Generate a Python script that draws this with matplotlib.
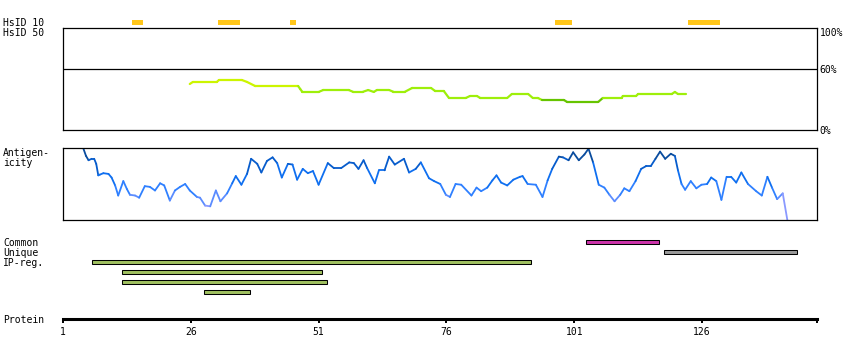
import numpy as np
import matplotlib
matplotlib.use("Agg")
import matplotlib.pyplot as plt
from matplotlib.collections import LineCollection

# HsID 10 hits (start, end residue)
hsid10_start = [14.5, 31.3, 45.4, 97.2, 123.3]
hsid10_end = [16.7, 35.6, 46.6, 100.6, 129.5]

# HsID 50 identity (%) along the protein
hsid_pos = [25.8, 26.4, 31.1, 31.5, 36.0, 37.0, 38.6, 47.0, 47.4, 47.8,
            51.1, 51.9, 56.9, 57.7, 59.7, 60.7, 61.8, 62.4, 64.8, 65.6,
            67.9, 69.3, 73.0, 73.8, 75.5, 76.5, 79.8, 80.6, 82.0, 82.6,
            87.9, 88.8, 92.0, 92.9, 93.9, 94.7, 99.0, 99.6, 105.7, 106.6,
            110.3, 110.5, 113.1, 113.5, 120.1, 120.7, 121.3, 122.9]
hsid_val = [45.1, 47.1, 47.1, 49.0, 49.0, 47.1, 43.1, 43.1, 40.2, 37.5,
            37.5, 39.2, 39.2, 37.5, 37.5, 39.2, 37.3, 39.2, 39.2, 37.5,
            37.5, 41.2, 41.2, 38.2, 38.2, 31.4, 31.4, 33.3, 33.3, 31.4,
            31.4, 35.3, 35.3, 31.4, 31.4, 29.4, 29.4, 27.5, 27.5, 31.4,
            31.4, 33.3, 33.3, 35.3, 35.3, 37.3, 35.3, 35.3]

# antigenicity score (0-100 of panel height)
ag_pos = [5.0, 5.5, 6.0, 6.6, 7.1, 7.5, 7.9, 8.2, 8.9, 9.9,
          10.5, 11.2, 11.8, 12.8, 13.5, 14.1, 15.1, 15.9, 17.0, 18.0,
          19.0, 20.0, 20.8, 21.9, 22.9, 23.9, 24.9, 25.8, 27.2, 27.8,
          28.8, 29.8, 30.9, 31.8, 33.1, 34.1, 34.8, 35.9, 37.0, 37.8,
          39.0, 39.8, 40.9, 42.0, 42.9, 43.8, 45.0, 45.9, 46.8, 47.9,
          48.9, 49.9, 51.0, 52.8, 54.0, 55.4, 57.0, 57.9, 58.8, 59.8,
          60.5, 62.0, 62.8, 63.9, 64.8, 65.9, 67.7, 68.7, 70.0, 71.0,
          72.6, 73.6, 74.8, 75.9, 76.7, 77.8, 78.9, 80.9, 81.9, 82.8,
          84.0, 85.0, 85.8, 86.7, 87.9, 89.1, 90.4, 90.9, 91.9, 93.5,
          94.8, 95.8, 96.7, 98.0, 98.8, 99.9, 100.8, 101.9, 103.0, 103.8,
          104.7, 105.8, 106.9, 107.9, 108.9, 110.0, 110.8, 111.8, 113.0, 114.1,
          115.1, 116.0, 116.9, 117.8, 118.8, 119.9, 120.7, 121.3, 122.0, 122.7,
          123.8, 124.9, 125.9, 127.0, 127.8, 128.8, 129.8, 130.8, 131.7, 132.7,
          133.7, 135.0, 136.6, 137.7, 138.8, 139.7, 140.7, 141.8, 142.7]
ag_val = [99, 89, 83, 85, 85, 78, 62, 63, 65, 64,
          59, 48, 34, 54, 43, 35, 34, 31, 47, 46,
          41, 51, 48, 27, 41, 46, 50, 41, 32, 31,
          20, 19, 41, 26, 37, 51, 61, 49, 64, 85,
          78, 66, 82, 87, 79, 59, 78, 77, 56, 71,
          65, 68, 49, 79, 72, 72, 80, 79, 71, 83,
          72, 51, 69, 69, 88, 77, 85, 66, 71, 80,
          58, 54, 50, 35, 32, 50, 49, 34, 45, 40,
          45, 55, 62, 52, 48, 56, 60, 61, 50, 49,
          32, 55, 71, 88, 87, 83, 94, 83, 91, 99,
          80, 49, 45, 35, 26, 35, 44, 40, 54, 71,
          75, 75, 85, 95, 85, 92, 89, 69, 50, 42,
          54, 44, 49, 50, 59, 54, 28, 60, 60, 52,
          66, 50, 40, 34, 60, 45, 29, 37, 0]

# feature regions
common_start, common_end = [103.4], [117.6]
unique_start, unique_end = [118.5], [144.5]
ipreg_start = [6.6, 12.5, 12.5, 28.5]
ipreg_end = [92.5, 51.6, 52.6, 37.5]

protein_ticks = [1, 26, 51, 76, 101, 126]
protein_len = 148.5

W, H = 850, 360
X0, X1 = 63, 817
MONO = "DejaVu Sans Mono"
FS = 7


def px_axes(fig, x0, y0, x1, y1):
    return fig.add_axes([x0 / W, 1 - y1 / H, (x1 - x0) / W, (y1 - y0) / H])


def hsid_color(v):
    if v >= 42:
        return "#ccf500"
    if v >= 30:
        return "#9eef0a"
    return "#66c400"


def ag_color(v):
    if v >= 86:
        return "#0a4c9e"
    if v >= 70:
        return "#075ccc"
    if v >= 50:
        return "#0f6ff0"
    if v >= 35:
        return "#2f80ff"
    if v >= 20:
        return "#5b8cff"
    return "#8a99ff"


def colored_line(ax, xs, ys, color_for, lw):
    pts = np.column_stack([xs, ys])
    segs = np.stack([pts[:-1], pts[1:]], axis=1)
    ys = np.asarray(ys, dtype=float)
    mids = (ys[:-1] + ys[1:]) / 2
    lc = LineCollection(segs, colors=[color_for(m) for m in mids],
                        linewidths=lw, capstyle="round")
    ax.add_collection(lc)


def frame(ax, lw=0.9):
    ax.set_xticks([])
    ax.set_yticks([])
    for s in ax.spines.values():
        s.set_linewidth(lw)


fig = plt.figure(figsize=(8.5, 3.6), dpi=100)

# HsID 10 bars
ax_id = px_axes(fig, X0, 20, X1, 25)
ax_id.barh(0.5, np.subtract(hsid10_end, hsid10_start), left=hsid10_start,
           height=1, color="#ffc61a")
ax_id.set_xlim(1, protein_len)
ax_id.set_ylim(0, 1)
ax_id.axis("off")

# HsID 50 panel
ax_hs = px_axes(fig, X0, 28, X1, 130)
frame(ax_hs)
ax_hs.axhline(60, color="black", lw=0.9)
colored_line(ax_hs, hsid_pos, hsid_val, hsid_color, 1.6)
ax_hs.set_xlim(1, protein_len)
ax_hs.set_ylim(0, 100)
ax_hs.yaxis.tick_right()
ax_hs.set_yticks([0, 60, 100])
ax_hs.set_yticklabels(["0%", "60%", "100%"], family=MONO, fontsize=FS)
ax_hs.tick_params(axis="y", length=0, pad=2)
ax_hs.get_yticklabels()[2].set_va("top")

# antigenicity panel
ax_ag = px_axes(fig, X0, 148, X1, 220)
frame(ax_ag)
colored_line(ax_ag, ag_pos, ag_val, ag_color, 1.3)
ax_ag.set_xlim(1, protein_len)
ax_ag.set_ylim(0, 100)

# feature rows
ax_ft = px_axes(fig, X0, 237, X1, 297)
ax_ft.barh(0, np.subtract(common_end, common_start), left=common_start,
           height=0.42, color="#cc33aa", edgecolor="black", linewidth=0.75)
ax_ft.barh(1, np.subtract(unique_end, unique_start), left=unique_start,
           height=0.42, color="#999999", edgecolor="black", linewidth=0.75)
ip_rows = 2 + np.arange(len(ipreg_start))
ax_ft.barh(ip_rows, np.subtract(ipreg_end, ipreg_start), left=ipreg_start,
           height=0.42, color="#a0c060", edgecolor="black", linewidth=0.75)
ax_ft.set_xlim(1, protein_len)
ax_ft.set_ylim(5.5, -0.5)
ax_ft.axis("off")

# protein axis
ax_pr = px_axes(fig, X0, 300, X1, 319.4)
for name, s in ax_pr.spines.items():
    s.set_visible(name == "bottom")
ax_pr.spines["bottom"].set_linewidth(2.2)
ax_pr.set_xlim(1, protein_len)
ax_pr.set_yticks([])
ax_pr.set_xticks(protein_ticks + [protein_len])
ax_pr.set_xticklabels([str(t) for t in protein_ticks] + [""], family=MONO, fontsize=FS)
ax_pr.tick_params(axis="x", direction="out", length=3.2, width=1.4, pad=2.5)
ax_pr.patch.set_visible(False)

# row labels
labels = [("HsID 10", 22.7), ("HsID 50", 32.7), ("Antigen-", 153.3),
          ("icity", 163.3), ("Common", 243.3), ("Unique", 253.3),
          ("IP-reg.", 262.7), ("Protein", 320)]
for text, y in labels:
    fig.text(3 / W, 1 - y / H, text, va="center", ha="left", family=MONO, fontsize=FS)

fig.savefig("out.png", dpi=100)
